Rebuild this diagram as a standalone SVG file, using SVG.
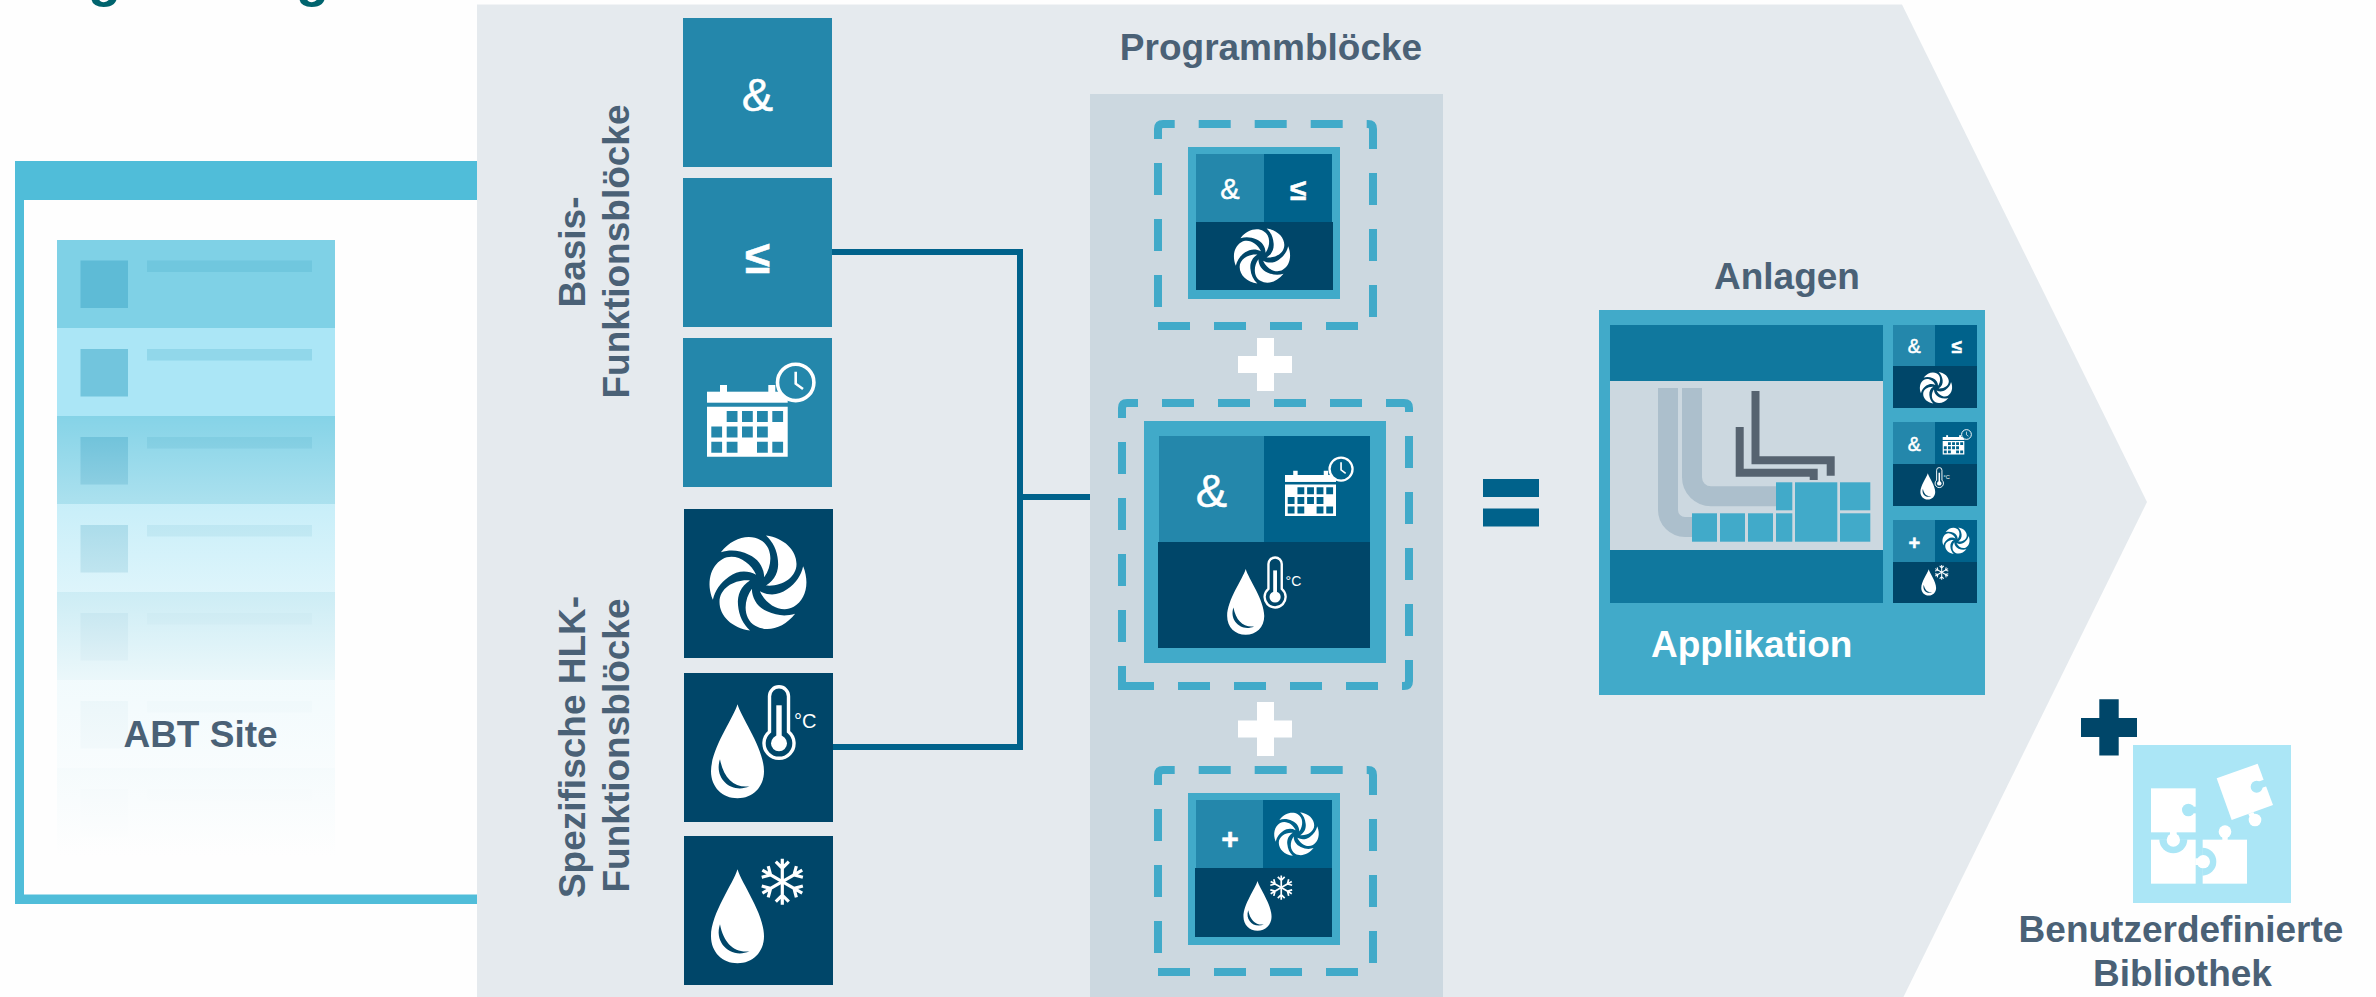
<svg xmlns="http://www.w3.org/2000/svg" xmlns:xlink="http://www.w3.org/1999/xlink" width="2376" height="997" viewBox="0 0 2376 997">
<style>
text{font-family:"Liberation Sans",Arial,sans-serif}
.lbl{font-size:37px;font-weight:700;fill:#4a6176;text-anchor:middle}
.wht{fill:#fff;text-anchor:middle}
.bold{font-weight:700}
.thick{stroke:#fff;stroke-width:.5px}
.c1{fill:#2487ab}.c2{fill:#00628b}.c3{fill:#004669}.mod{fill:#41aac9}
.sq{fill:rgb(68,170,200);fill-opacity:.55}
.ln{fill:rgb(68,170,200);fill-opacity:.25}
.dash{fill:none;stroke:#41aac9;stroke-width:8}
.wire{fill:none;stroke:#00628b;stroke-width:6}
.duct{fill:none;stroke:#acbfcc;stroke-width:20}
.pipe{fill:none;stroke:#566370;stroke-width:8}
</style>
<defs>
<linearGradient id="fade" gradientUnits="userSpaceOnUse" x1="0" y1="416" x2="0" y2="856">
<stop offset="0" stop-color="#fefefe" stop-opacity=".05"/><stop offset=".2" stop-color="#fefefe" stop-opacity=".35"/><stop offset=".4" stop-color="#fefefe" stop-opacity=".61"/><stop offset=".6" stop-color="#fefefe" stop-opacity=".85"/><stop offset=".8" stop-color="#fefefe" stop-opacity=".93"/><stop offset="1" stop-color="#fefefe" stop-opacity="1"/>
</linearGradient>
<path id="blade" fill="#fff" d="M8 -47.500C26 -45 38.500 -33 38.500 -19C38.500 -5 23 4 8 2.500C17 -3 21 -12 20 -22C19 -33 15 -41 8 -47.500Z"/>
<g id="fan">
<use href="#blade"/><use href="#blade" transform="rotate(60)"/><use href="#blade" transform="rotate(120)"/><use href="#blade" transform="rotate(180)"/><use href="#blade" transform="rotate(240)"/><use href="#blade" transform="rotate(300)"/>
</g>
<path id="drop" fill="#fff" fill-rule="evenodd" d="M0 0C4 14 26.500 44 26.500 67C26.500 83 15 94 0 94C-15 94 -26.500 83 -26.500 67C-26.500 44 -4 14 0 0ZM-17.500 55C-24 74 -6 90 12 82C-3 84 -14 74 -17.500 55Z"/>
<g id="therm">
<path fill="none" stroke="#fff" stroke-width="3.400" d="M-9.500 -11.600V-47A9.500 9.500 0 0 1 9.500 -47V-11.600A15 15 0 1 1 -9.500 -11.600Z"/>
<rect x="-2.700" y="-38" width="5.400" height="38" fill="#fff"/><circle r="8" fill="#fff"/>
</g>
<g id="arm"><path fill="none" stroke="#fff" stroke-width="3.200" d="M0 0V-23M-6.500 -20L0 -13.500L6.500 -20"/></g>
<g id="snow">
<use href="#arm"/><use href="#arm" transform="rotate(60)"/><use href="#arm" transform="rotate(120)"/><use href="#arm" transform="rotate(180)"/><use href="#arm" transform="rotate(240)"/><use href="#arm" transform="rotate(300)"/>
</g>
<g id="cal">
<rect x="0" y="0" width="80.700" height="11" fill="#fff"/>
<rect x="13" y="-6.700" width="7" height="7" fill="#fff"/><rect x="61.300" y="-6.700" width="7" height="7" fill="#fff"/>
<path fill="#fff" fill-rule="evenodd" d="M0 15H80.700V65H0ZM19.700 19.300h10.800v11h-10.800zM35 19.300h10.800v11h-10.800zM50 19.300h10.800v11h-10.800zM65.300 19.300h10.800v11h-10.800zM4.300 34.700h10.800v11h-10.800zM19.700 34.700h10.800v11h-10.800zM35 34.700h10.800v11h-10.800zM50 34.700h10.800v11h-10.800zM4.300 50h10.800v11h-10.800zM19.700 50h10.800v11h-10.800zM50 50h10.800v11h-10.800zM65.300 50h10.800v11h-10.800z"/>
<circle cx="88.700" cy="-9.300" r="18.200" fill="currentColor" stroke="#fff" stroke-width="3.600"/>
<path fill="none" stroke="#fff" stroke-width="2.600" d="M88.700 -20V-8L96 -2.700"/>
</g>
<path id="dashes" class="dash" d="M1158 139V129Q1158 124 1163 124H1174.700M1198.700 124H1230.700M1254.700 124H1286.700M1310.700 124H1342.700M1366.700 124H1368Q1373 124 1373 129V149M1373 173V205M1373 229V261M1373 285V317M1358 326H1326M1302 326H1270M1246 326H1214M1190 326H1158M1158 307V275M1158 251V219M1158 195V163"/>
</defs>

<rect id="background" width="2376" height="997" fill="#fefefe"/>
<g id="heading-fragment"><text x="88" y="-4.500" font-size="54" font-weight="700" fill="#00646e">g</text><text x="296" y="-4.500" font-size="54" font-weight="700" fill="#00646e">g</text></g>

<g id="abt-site">
<path fill="#50bdd9" d="M15 161H478V200H24V894.500H478V904H15Z"/>
<g>
<rect x="57" y="240" width="278" height="88" fill="#7fd1e6"/><rect x="57" y="328" width="278" height="88" fill="#abe6f6"/><rect x="57" y="416" width="278" height="88" fill="#7fd1e6"/><rect x="57" y="504" width="278" height="88" fill="#abe6f6"/><rect x="57" y="592" width="278" height="88" fill="#7fd1e6"/><rect x="57" y="680" width="278" height="88" fill="#abe6f6"/><rect x="57" y="768" width="278" height="88" fill="#7fd1e6"/>
<rect class="sq" x="80.500" y="260.500" width="47.500" height="47.500"/><rect class="ln" x="147" y="260.500" width="165" height="11.500"/>
<rect class="sq" x="80.500" y="349" width="47.500" height="47.500"/><rect class="ln" x="147" y="349" width="165" height="11.500"/>
<rect class="sq" x="80.500" y="437" width="47.500" height="47.500"/><rect class="ln" x="147" y="437" width="165" height="11.500"/>
<rect class="sq" x="80.500" y="525" width="47.500" height="47.500"/><rect class="ln" x="147" y="525" width="165" height="11.500"/>
<rect class="sq" x="80.500" y="613" width="47.500" height="47.500"/><rect class="ln" x="147" y="613" width="165" height="11.500"/>
<rect class="sq" x="80.500" y="701" width="47.500" height="47.500"/><rect class="ln" x="147" y="701" width="165" height="11.500"/>
<rect class="sq" x="80.500" y="789" width="47.500" height="47.500"/><rect class="ln" x="147" y="789" width="165" height="11.500"/>
<rect x="57" y="416" width="278" height="441" fill="url(#fade)"/>
</g>
<text class="lbl" x="200.500" y="747">ABT Site</text>
</g>

<polygon id="panel" fill="#e5eaee" points="477,4.500 1902,4.500 2147,502 1902,1000 477,1000"/>
<rect id="program-panel" x="1090" y="94" width="353" height="903" fill="#ccd8e0"/>

<g id="labels">
<text class="lbl" transform="translate(585 252) rotate(-90)">Basis-</text>
<text class="lbl" transform="translate(629 251.500) rotate(-90)">Funktionsblöcke</text>
<text class="lbl" transform="translate(585 747) rotate(-90)">Spezifische HLK-</text>
<text class="lbl" transform="translate(629 745.500) rotate(-90)">Funktionsblöcke</text>
<text class="lbl" x="1271" y="60">Programmblöcke</text>
<text class="lbl" x="1787" y="289">Anlagen</text>
</g>

<g id="connectors">
<path class="wire" d="M832 252H1020V747H833M1020 497H1090"/>
</g>

<g id="block-and"><rect class="c1" x="683" y="18" width="149" height="149"/><text class="wht thick" x="757.500" y="111" font-size="47">&amp;</text></g>
<g id="block-le"><rect class="c1" x="683" y="178" width="149" height="149"/><text class="wht bold thick" x="757.500" y="273" font-size="46">≤</text></g>
<g id="block-cal"><rect class="c1" x="683" y="338" width="149" height="149"/><use href="#cal" transform="translate(707 391.700)" color="#2487ab"/></g>
<g id="block-fan"><rect class="c3" x="684" y="509" width="149" height="149"/><use href="#fan" transform="translate(758 583)"/></g>
<g id="block-heat"><rect class="c3" x="684" y="673" width="149" height="149"/><g transform="translate(737.500 704.300)"><use href="#drop"/><use href="#therm" x="41.500" y="39"/><text x="56.500" y="23.400" font-size="20" fill="#fff">°C</text></g></g>
<g id="block-cool"><rect class="c3" x="684" y="836" width="149" height="149"/><g transform="translate(737.500 869.300)"><use href="#drop"/><use href="#snow" x="44.800" y="12.400"/></g></g>

<g id="module-1">
<use href="#dashes"/>
<rect class="mod" x="1188" y="147" width="152" height="152"/>
<rect class="c1" x="1196" y="154" width="68" height="68"/><rect class="c2" x="1264" y="154" width="68" height="69"/><rect class="c3" x="1196" y="222" width="137" height="68"/>
<text class="wht thick" x="1230" y="199" font-size="29">&amp;</text>
<text class="wht bold thick" x="1298" y="200" font-size="30">≤</text>
<use href="#fan" transform="translate(1262 256) scale(.58)"/>
</g>

<g id="plus-1"><path fill="#fff" d="M1257 338H1274V356H1292V373H1274V391H1257V373H1238V356H1257Z"/></g>

<g id="module-2">
<path class="dash" d="M1122 418V408Q1122 403 1127 403H1138M1162 403H1194M1218 403H1250M1274 403H1306M1330 403H1362M1386 403H1404Q1409 403 1409 408V412M1409 436V468M1409 492V524M1409 548V580M1409 604V636M1409 660V681Q1409 686 1404 686H1402M1378 686H1346M1322 686H1290M1266 686H1234M1210 686H1178M1154 686H1122V666M1122 642V610M1122 586V554M1122 530V498M1122 474V442"/>
<rect class="mod" x="1144" y="421" width="242" height="242"/>
<rect class="c1" x="1159" y="436" width="105" height="106"/><rect class="c2" x="1264" y="436" width="106" height="106"/><rect class="c3" x="1158" y="542" width="212" height="106"/>
<text class="wht thick" x="1211.500" y="507" font-size="47">&amp;</text>
<use href="#cal" transform="translate(1285 475) scale(.632)" color="#00628b"/>
<g transform="translate(1245.700 569) scale(.7)"><use href="#drop"/><use href="#therm" x="42" y="40"/><text x="57" y="24" font-size="20" fill="#fff">°C</text></g>
</g>

<g id="plus-2"><path fill="#fff" d="M1257 702H1274V720.500H1292V737.500H1274V756H1257V737.500H1238V720.500H1257Z"/></g>

<g id="module-3">
<use href="#dashes" y="646"/>
<rect class="mod" x="1188" y="793" width="152" height="152"/>
<rect class="c1" x="1196" y="800" width="67" height="68"/><rect class="c2" x="1263" y="800" width="69" height="69"/><rect class="c3" x="1195" y="868" width="137" height="69"/>
<text class="wht bold thick" x="1230" y="849" font-size="30">+</text>
<use href="#fan" transform="translate(1296.500 834) scale(.46)"/>
<g transform="translate(1257.500 881) scale(.53)"><use href="#drop"/><use href="#snow" x="44.800" y="12.400"/></g>
</g>

<g id="equals"><rect class="c2" x="1483" y="479" width="56" height="18"/><rect class="c2" x="1483" y="508.500" width="56" height="18"/></g>

<g id="application">
<rect class="mod" x="1599" y="310" width="386" height="385"/>
<rect x="1610" y="325" width="273" height="278" fill="#10789e"/>
<rect x="1610" y="381" width="273" height="169" fill="#ccd8e0"/>
<path class="duct" d="M1668 388V510A17 17 0 0 0 1685 527H1695"/>
<path class="duct" d="M1692 388V477.300A19 19 0 0 0 1711 496.300H1780"/>
<path class="pipe" d="M1755.500 391V460.300H1830.700V475.700"/>
<path class="pipe" d="M1739.700 427V472.700H1813.700V480"/>
<g class="mod">
<rect x="1692" y="513.300" width="25" height="28.400"/><rect x="1720" y="513.300" width="25" height="28.400"/><rect x="1748" y="513.300" width="25" height="28.400"/><rect x="1776" y="513.300" width="16.300" height="28.400"/>
<rect x="1776" y="482.300" width="16.300" height="28"/><rect x="1795" y="482.300" width="42.300" height="59.400"/><rect x="1840" y="482.300" width="30.300" height="28"/><rect x="1840" y="513.300" width="30.300" height="28.400"/>
</g>
<text x="1651" y="656.700" font-size="37" font-weight="700" fill="#fff">Applikation</text>
</g>

<g id="app-module-1">
<rect class="c1" x="1893" y="325" width="42" height="41"/><rect class="c2" x="1935" y="325" width="42" height="42"/><rect class="c3" x="1893" y="366" width="84" height="42"/>
<text class="wht thick" x="1914.300" y="353" font-size="19.500">&amp;</text>
<text class="wht bold thick" x="1956.700" y="353" font-size="19">≤</text>
<use href="#fan" transform="translate(1936 387.700) scale(.333)"/>
</g>
<g id="app-module-2">
<rect class="c1" x="1893" y="422" width="42" height="42"/><rect class="c2" x="1935" y="422" width="42" height="42"/><rect class="c3" x="1893" y="464" width="84" height="42"/>
<text class="wht thick" x="1914.300" y="451" font-size="19.500">&amp;</text>
<use href="#cal" transform="translate(1942.700 437) scale(.268)" color="#00628b"/>
<g transform="translate(1927.800 473.300) scale(.28)"><use href="#drop"/><use href="#therm" x="41" y="36"/><text x="56" y="21" font-size="20" fill="#fff">°C</text></g>
</g>
<g id="app-module-3">
<rect class="c1" x="1893" y="520" width="42" height="42"/><rect class="c2" x="1935" y="520" width="42" height="42"/><rect class="c3" x="1893" y="562" width="84" height="41"/>
<text class="wht bold thick" x="1914.300" y="550" font-size="20">+</text>
<use href="#fan" transform="translate(1956 540.700) scale(.28)"/>
<g transform="translate(1928.700 569.300) scale(.28)"><use href="#drop"/></g>
<use href="#snow" transform="translate(1941.700 572.300) scale(.32)"/>
</g>

<g id="plus-3"><path class="c3" d="M2099.300 699.300H2118.700V718H2137V737H2118.700V755.600H2099.300V737H2081V718H2099.300Z"/></g>

<g id="library">
<rect x="2133" y="745" width="158" height="158" fill="#abe6f6"/>
<g transform="translate(2000 680) scale(.33333)">
<rect x="453" y="325" width="134" height="132" fill="#fff"/>
<circle cx="565" cy="390" r="19" fill="#abe6f6"/><rect x="570" y="380" width="18" height="20" fill="#abe6f6"/>
<rect x="453" y="479" width="134" height="132" fill="#fff"/>
<path d="M478 478A42 42 0 0 0 562 478Z" fill="#abe6f6"/>
<rect x="510" y="456" width="20" height="20" fill="#fff"/><circle cx="520" cy="480" r="20" fill="#fff"/>
<rect x="608" y="479" width="133" height="132" fill="#fff"/>
<path d="M607 503A42 42 0 0 1 607 587Z" fill="#abe6f6"/>
<rect x="586" y="535" width="20" height="20" fill="#fff"/><circle cx="610" cy="545" r="20" fill="#fff"/>
<circle cx="675" cy="455" r="19" fill="#fff"/><rect x="667" y="465" width="16" height="15" fill="#fff"/>
<polygon points="650,295 773,251 819,375 695,420" fill="#fff"/>
<circle cx="770" cy="320" r="18" fill="#abe6f6"/><polygon points="775,305 795,298 802,318 782,325" fill="#abe6f6"/>
<circle cx="765" cy="420" r="19" fill="#fff"/><polygon points="745,402 760,396 768,412 752,418" fill="#fff"/>
</g>
<text class="lbl" x="2181" y="942">Benutzerdefinierte</text>
<text class="lbl" x="2182.500" y="986">Bibliothek</text>
</g>
</svg>
